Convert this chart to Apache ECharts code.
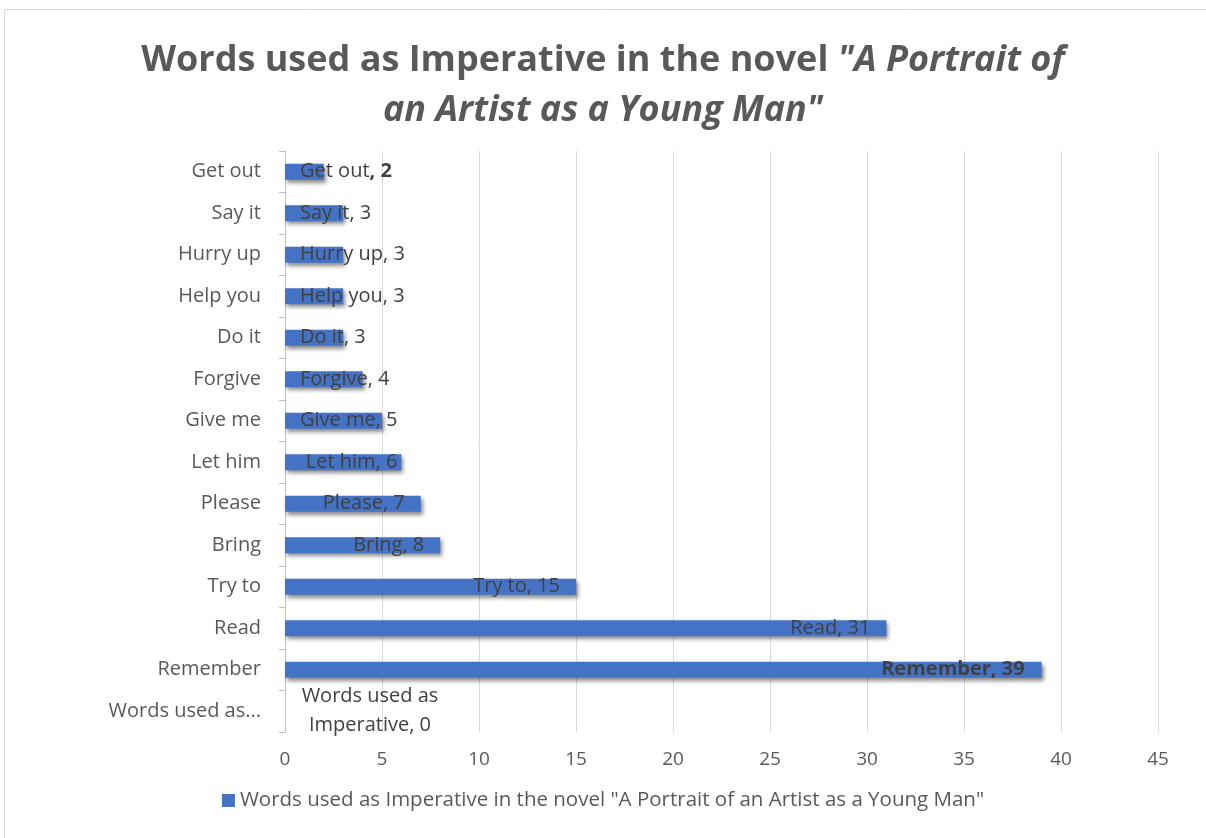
<!DOCTYPE html>
<html>
<head>
<meta charset="utf-8">
<script src="https://cdn.jsdelivr.net/npm/echarts@6/dist/echarts.min.js"></script>
<style>
html,body{margin:0;padding:0;background:#fff;}
#chart{width:1206px;height:838px;}
</style>
</head>
<body>
<div id="chart"></div>
<script>
// Categories listed bottom to top (ECharts category y-axis starts at the bottom)
const categories = ['Words used as Imperative','Remember','Read','Try to','Bring','Please','Let him','Give me','Forgive','Do it','Help you','Hurry up','Say it','Get out'];
const values = [0,39,31,15,8,7,6,5,4,3,3,3,3,2];
const xTicks = [0,5,10,15,20,25,30,35,40,45];
const seriesName = 'Words used as Imperative in the novel "A Portrait of an Artist as a Young Man"';

const FONT = '"Open Sans", "Noto Sans", sans-serif';
const LBL = 20;

function labelFor(i) {
  const name = categories[i], v = values[i];
  const lab = { show: true };
  if (v === 0) {
    lab.position = 'right';
    lab.distance = 85;
    lab.align = 'center';
    lab.lineHeight = 29;
    lab.formatter = 'Words used as\nImperative, ' + v;
  } else if (name === 'Remember') {
    lab.position = 'insideRight';
    lab.distance = 17;
    lab.formatter = '{b|' + name + ', ' + v + '}';
  } else if (name === 'Get out') {
    lab.position = 'insideLeft';
    lab.distance = 15;
    lab.formatter = '{n|' + name + '}{b|, ' + v + '}';
  } else if (v >= 6) {
    lab.position = 'insideRight';
    lab.distance = name === 'Let him' ? 4 : 16;
    lab.formatter = name + ', ' + v;
  } else {
    lab.position = 'insideLeft';
    lab.distance = 15;
    lab.formatter = name + ', ' + v;
  }
  return lab;
}

const chart = echarts.init(document.getElementById('chart'));
chart.setOption({
  backgroundColor: '#fff',
  animation: false,
  graphic: [{
    type: 'rect', silent: true, z: -1,
    shape: { x: 4.5, y: 9.5, width: 1230, height: 860 },
    style: { fill: 'none', stroke: '#d9d9d9', lineWidth: 1 }
  }],
  title: {
    left: 'center', top: 31,
    text: '{n|Words used as Imperative in the novel }{i|"A Portrait of}\n{i|an Artist as a Young Man"}',
    textStyle: {
      rich: {
        n: { fontFamily: FONT, fontSize: 36, fontWeight: 'bold', color: '#595959', lineHeight: 50 },
        i: { fontFamily: FONT, fontSize: 36, fontWeight: 'bold', fontStyle: 'italic', color: '#595959', lineHeight: 50 }
      }
    }
  },
  legend: {
    bottom: 22, left: 'center',
    icon: 'rect', itemWidth: 13, itemHeight: 13, itemGap: 5,
    textStyle: { fontFamily: FONT, fontSize: 20.5, color: '#595959' },
    data: [seriesName]
  },
  grid: { left: 285, right: 48, top: 151, bottom: 106, containLabel: false },
  xAxis: {
    type: 'value', min: 0, max: 45, interval: 5,
    axisLine: { show: false }, axisTick: { show: false },
    axisLabel: { fontFamily: FONT, fontSize: 19, color: '#595959', margin: 18,
      formatter: v => xTicks.includes(v) ? String(v) : '' },
    splitLine: { show: true, lineStyle: { color: '#d9d9d9', width: 1 } }
  },
  yAxis: {
    type: 'category', data: categories,
    axisLine: { show: true, lineStyle: { color: '#bfbfbf', width: 1 } },
    axisTick: { show: true, length: 6, lineStyle: { color: '#bfbfbf' } },
    axisLabel: { fontFamily: FONT, fontSize: 20, color: '#595959', margin: 24,
      formatter: s => s.length > 16 ? s.slice(0, 13) + '...' : s }
  },
  series: [{
    name: seriesName,
    type: 'bar',
    barWidth: '38%',
    itemStyle: {
      color: '#4472C4',
      shadowColor: 'rgba(0,0,0,0.45)', shadowBlur: 4, shadowOffsetX: 2, shadowOffsetY: 3
    },
    label: {
      fontFamily: FONT, fontSize: LBL, color: '#404040',
      rich: {
        n: { fontFamily: FONT, fontSize: LBL, color: '#404040' },
        b: { fontFamily: FONT, fontSize: LBL, color: '#404040', fontWeight: 'bold' }
      }
    },
    data: values.map((v, i) => ({ value: v, label: labelFor(i) }))
  }]
});
</script>
</body>
</html>
